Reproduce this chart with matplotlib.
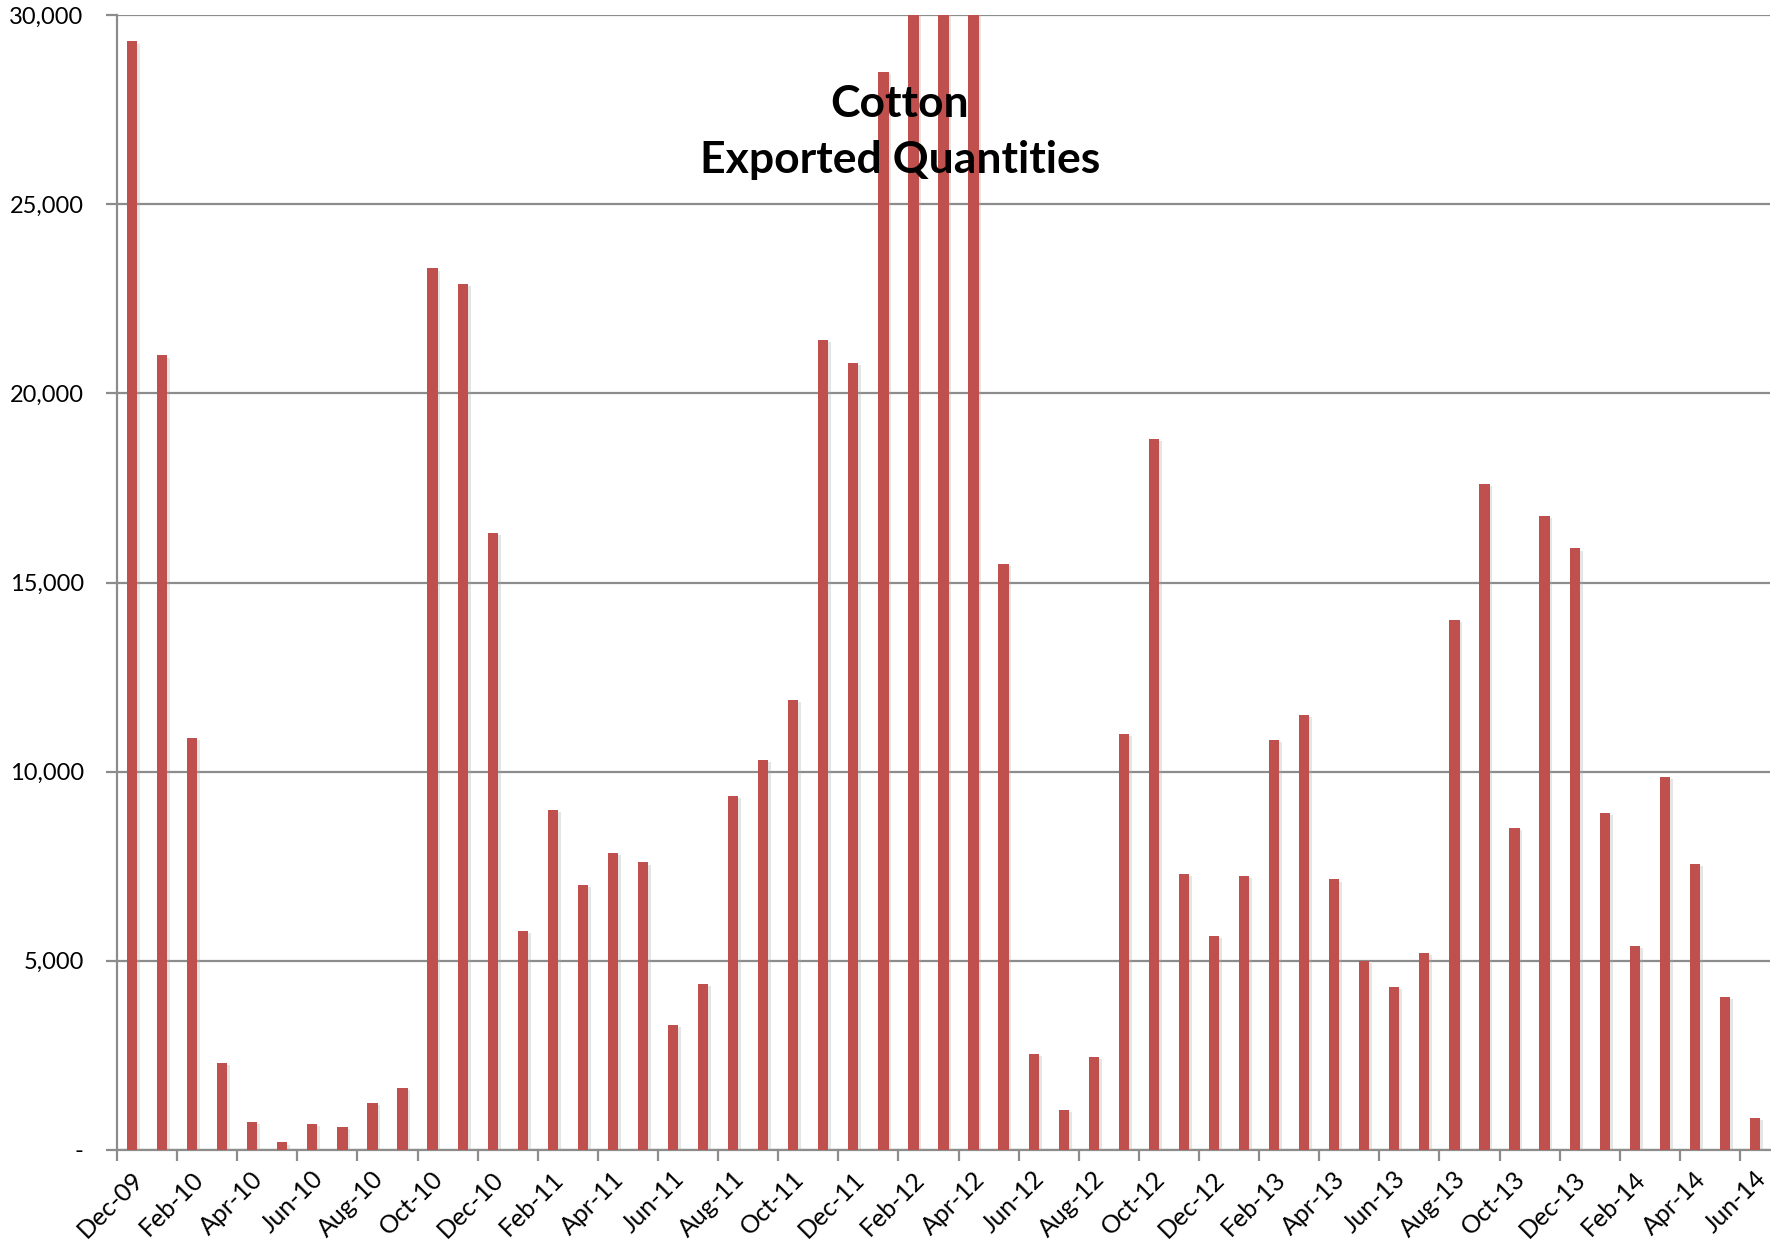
import matplotlib
matplotlib.use("Agg")
import matplotlib.pyplot as plt
import matplotlib.patheffects as pe
import matplotlib.transforms as mtransforms
import numpy as np

months = ["Dec-09","Jan-10","Feb-10","Mar-10","Apr-10","May-10","Jun-10","Jul-10","Aug-10","Sep-10",
          "Oct-10","Nov-10","Dec-10","Jan-11","Feb-11","Mar-11","Apr-11","May-11","Jun-11","Jul-11",
          "Aug-11","Sep-11","Oct-11","Nov-11","Dec-11","Jan-12","Feb-12","Mar-12","Apr-12","May-12",
          "Jun-12","Jul-12","Aug-12","Sep-12","Oct-12","Nov-12","Dec-12","Jan-13","Feb-13","Mar-13",
          "Apr-13","May-13","Jun-13","Jul-13","Aug-13","Sep-13","Oct-13","Nov-13","Dec-13","Jan-14",
          "Feb-14","Mar-14","Apr-14","May-14","Jun-14"]
values = [29300, 21000, 10900, 2300, 750, 200, 700, 600, 1250, 1650,
          23300, 22900, 16300, 5800, 9000, 7000, 7850, 7600, 3300, 4400,
          9350, 10300, 11900, 21400, 20800, 28500, 34000, 36000, 33000, 15500,
          2550, 1050, 2450, 11000, 18800, 7300, 5650, 7250, 10850, 11500,
          7150, 5000, 4300, 5200, 14000, 17600, 8500, 16750, 15900, 8900,
          5400, 9850, 7550, 4050, 850]
yticks = [0, 5000, 10000, 15000, 20000, 25000, 30000]
ytick_labels = ["-", "5,000", "10,000", "15,000", "20,000", "25,000", "30,000"]
title_text = "Cotton\nExported Quantities"

plt.rcParams['font.family'] = ['Lato', 'DejaVu Sans']

fig = plt.figure(figsize=(17.71, 12.47), dpi=100)
ax = fig.add_axes([117/1771, 1 - 1150/1247, (1770-117)/1771, (1150-15)/1247])

n = len(values)
x = np.arange(n) + 0.5
bars = ax.bar(x, values, width=0.34, color="#C0504D", zorder=3)
for b in bars:
    b.set_path_effects([pe.SimplePatchShadow(offset=(2, -1.5), shadow_rgbFace="#aaaaaa", alpha=0.3),
                        pe.Normal()])

ax.set_xlim(0, n)
ax.set_ylim(0, 30000)
ax.set_yticks(yticks)
ax.set_yticklabels(ytick_labels)
ax.yaxis.grid(True, color="#8c8c8c", linewidth=1.6, zorder=0)
ax.set_axisbelow(True)

tick_pos = np.arange(0, n, 2)
ax.set_xticks(tick_pos)
ax.set_xticklabels([])
lab_trans = ax.get_xaxis_transform() + mtransforms.ScaledTranslation(14/100, -17/100, fig.dpi_scale_trans)
for tp, lab in zip(tick_pos, months[0::2]):
    ax.text(tp, 0, lab, transform=lab_trans, rotation=45, ha="right", va="top",
            rotation_mode="anchor", fontsize=18, clip_on=False)

for s in ["top", "right"]:
    ax.spines[s].set_visible(False)
for s in ["left", "bottom"]:
    ax.spines[s].set_color("#8c8c8c")
    ax.spines[s].set_linewidth(1.6)
ax.tick_params(axis="x", length=8, width=1.6, color="#8c8c8c")
ax.tick_params(axis="y", length=8, width=1.6, color="#8c8c8c", labelsize=17, pad=16)

fig.text(900/1771, 1 - 132/1247, title_text, ha="center", va="center", fontsize=32,
         fontweight="bold", linespacing=1.5, zorder=10)

fig.savefig("out.png", dpi=100)
